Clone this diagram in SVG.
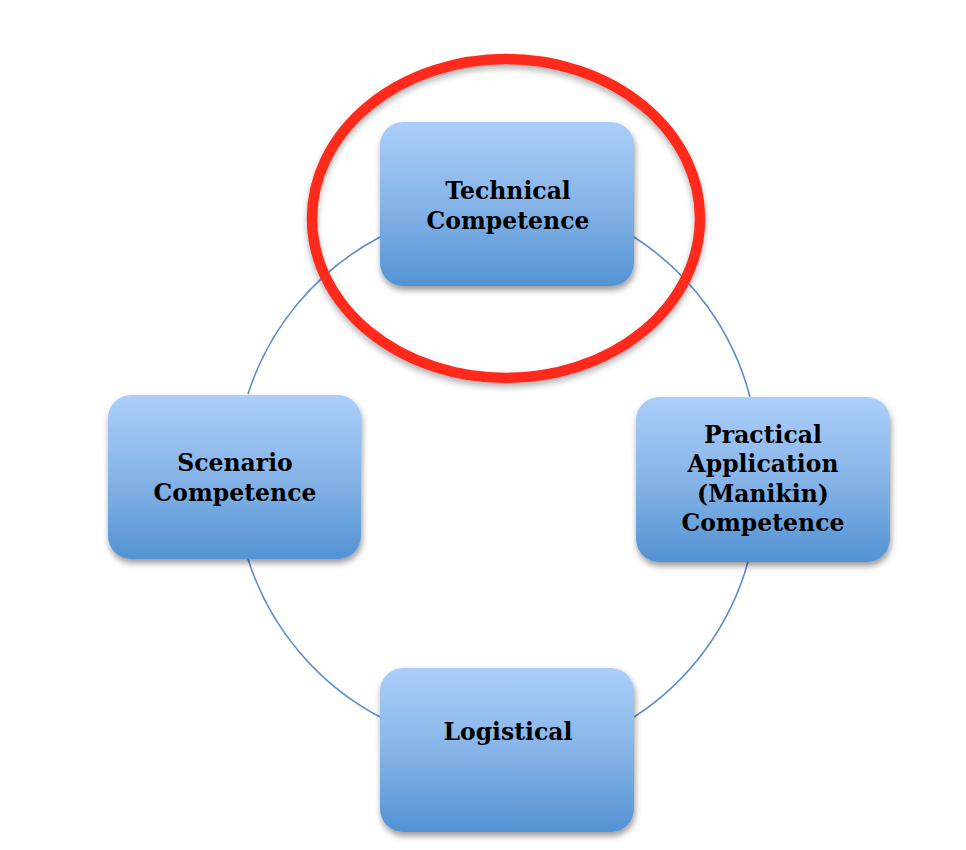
<svg xmlns="http://www.w3.org/2000/svg" width="966" height="850" viewBox="0 0 966 850">
<defs>
<linearGradient id="boxGrad" x1="0" y1="0" x2="0" y2="1">
<stop offset="0" stop-color="#abcff9"/>
<stop offset="0.5" stop-color="#86b4e8"/>
<stop offset="1" stop-color="#5393d3"/>
</linearGradient>
<filter id="shadow" x="-10%" y="-10%" width="125%" height="130%">
<feDropShadow dx="1" dy="4" stdDeviation="3" flood-color="#000" flood-opacity="0.4"/>
</filter>
<filter id="rshadow" x="-10%" y="-10%" width="120%" height="125%">
<feDropShadow dx="0" dy="4" stdDeviation="3" flood-color="#000" flood-opacity="0.3"/>
</filter>
</defs>
<style>
.box{fill:url(#boxGrad);filter:url(#shadow);}
.lbl{font-family:"DejaVu Serif","Liberation Serif",serif;font-weight:bold;font-size:23.5px;fill:#000;text-anchor:middle;}
.arc{fill:none;stroke:#5b8dcc;stroke-width:1.6;}
</style>
<rect width="966" height="850" fill="#fff"/>
<g id="connectors">
<path class="arc" d="M248,394 A272,272 0 0 1 380,237"/>
<path class="arc" d="M634,237 A272,272 0 0 1 750,397"/>
<path class="arc" d="M748,562 A272,272 0 0 1 634,717"/>
<path class="arc" d="M380,717 A272,272 0 0 1 248,559"/>
</g>
<g id="node-technical">
<rect class="box" x="380" y="122" width="254" height="164" rx="23"/>
<text class="lbl" x="508" y="199">Technical</text>
<text class="lbl" x="508" y="228.5">Competence</text>
</g>
<g id="node-practical">
<rect class="box" x="636" y="397" width="254" height="165" rx="23"/>
<text class="lbl" x="763" y="443">Practical</text>
<text class="lbl" x="763" y="472">Application</text>
<text class="lbl" x="763" y="501.5">(Manikin)</text>
<text class="lbl" x="763" y="531">Competence</text>
</g>
<g id="node-scenario">
<rect class="box" x="108" y="395" width="253" height="164" rx="23"/>
<text class="lbl" x="235" y="471">Scenario</text>
<text class="lbl" x="235" y="501">Competence</text>
</g>
<g id="node-logistical">
<rect class="box" x="380" y="668" width="254" height="164" rx="23"/>
<text class="lbl" x="508" y="740">Logistical</text>
</g>
<g id="highlight">
<ellipse cx="506" cy="218.5" rx="194" ry="159.5" fill="none" stroke="#ff2a1c" stroke-width="10.5" filter="url(#rshadow)"/>
</g>
</svg>
